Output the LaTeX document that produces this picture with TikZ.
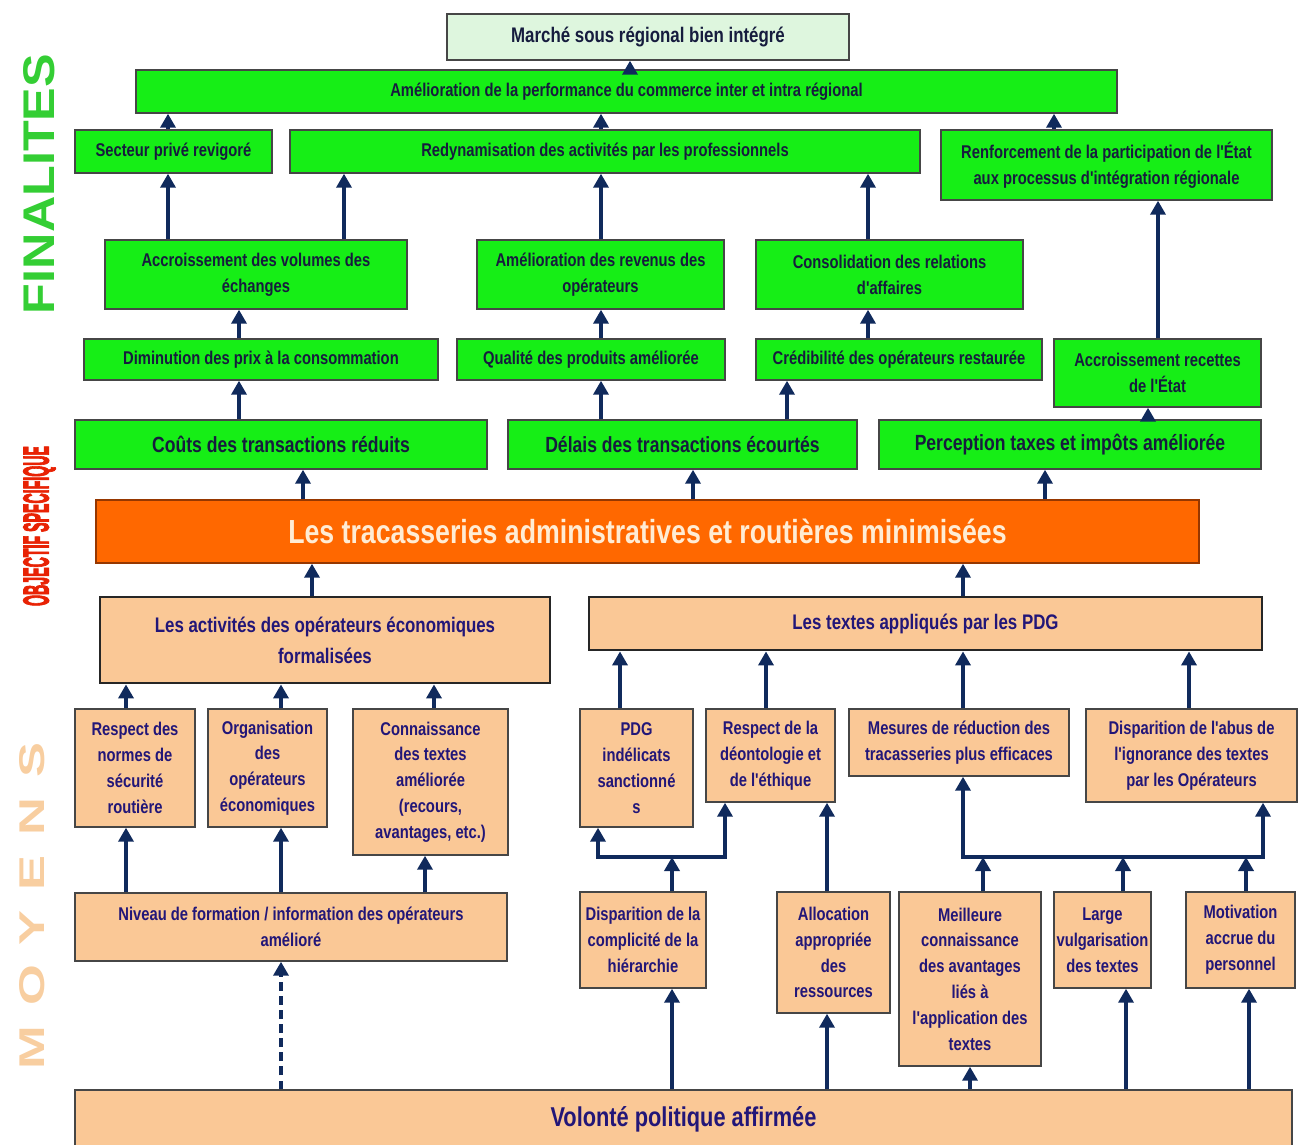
\documentclass[tikz,border=0pt]{standalone}
\usepackage{fontspec}
\usepackage{graphicx}
\usetikzlibrary{arrows.meta}
\newfontfamily\etroit{Liberation Sans}[FakeStretch=0.8]
\newfontfamily\plein{Liberation Sans}
\newfontfamily\epais{Liberation Sans}[FakeBold=4]
\definecolor{vertvif}{RGB}{22,238,22}
\definecolor{vertpale}{RGB}{222,246,222}
\definecolor{pechefond}{RGB}{250,200,150}
\definecolor{orangevif}{RGB}{255,104,0}
\definecolor{bleufl}{RGB}{16,42,92}
\definecolor{encre}{RGB}{22,28,62}
\definecolor{encreb}{RGB}{34,22,120}
\definecolor{bordgris}{RGB}{70,70,70}
\definecolor{vertlabel}{RGB}{52,206,52}
\definecolor{rougelabel}{RGB}{232,34,4}
\definecolor{pechelabel}{RGB}{248,206,160}
\tikzset{
	boite/.style={draw=bordgris, line width=0.8pt, inner sep=1pt, align=center, font=\etroit\bfseries\fontsize{10.5}{14.7}\selectfont},
	vert/.style={boite, fill=vertvif, text=encre},
	vertg/.style={vert, font=\etroit\bfseries\fontsize{12.5}{15}\selectfont},
	peche/.style={boite, fill=pechefond, text=encreb},
	pecheg/.style={peche, draw=black!85, line width=1.6pt, font=\etroit\bfseries\fontsize{12}{17.6}\selectfont},
	fl/.style={draw=bleufl, line width=2.6pt, ->},
	bus/.style={draw=bleufl, line width=2.6pt, <->},
	etage/.style={inner sep=0pt, rotate=90}
}
\def\cadre[#1](#2)(#3:#4:#5:#6)#7{\node[#1, minimum width={(#5-#3)*0.02cm}, minimum height={(#6-#4)*0.02cm}] (#2) at ({(#3+#5)/2},{(#4+#6)/2}) {#7};}
\def\fleche[#1](#2)(#3)(#4){\draw[fl,#1] (#2.north -| #4,0) -- (#3.south -| #4,0);}

\begin{document}
\begin{tikzpicture}[x=0.02cm, y=-0.02cm, >={Triangle[width=0.3cm,length=0.28cm]}]
			%%%%% START %%%%%
			\useasboundingbox (0,0) rectangle (1304,1144);
			
			% niveaux
			\node[etage, text=vertlabel] (finalites) at (39.5,184) {\resizebox{5.2cm}{0.62cm}{\plein\bfseries FINALITES}};
			\node[etage, text=rougelabel] (objspec) at (39.5,526) {\resizebox{3.2cm}{0.5cm}{\epais\bfseries OBJECTIF SPECIFIQUE}};
			\node[etage, text=pechelabel] (moyens) at (32,906) {\resizebox{6.54cm}{0.5cm}{\plein\bfseries M\hspace{0.38em}O\hspace{0.38em}Y\hspace{0.38em}E\hspace{0.38em}N\hspace{0.38em}S}};
			
			% finalites
			\cadre[boite, fill=vertpale, text=encre, font=\etroit\bfseries\fontsize{12}{14}\selectfont](marche)(447:14:849:60){Marché sous régional bien intégré}
			\cadre[vert](amelio)(136:70:1117:113){Amélioration  de la performance du commerce inter et intra régional}
			\cadre[vert](secteur)(75:130:272:173){Secteur privé revigoré}
			\cadre[vert](redyn)(290:130:920:173){Redynamisation des activités par les professionnels}
			\cadre[vert](renfo)(941:130:1272:200){Renforcement de la participation de l'État\\aux processus d'intégration régionale}
			\cadre[vert](accvol)(105:240:407:309){Accroissement des volumes des\\échanges}
			\cadre[vert](revenus)(477:240:724:309){Amélioration des revenus des\\opérateurs}
			\cadre[vert](consol)(756:240:1023:309){Consolidation des relations\\d'affaires}
			\cadre[vert](diminu)(84:339:438:380){Diminution des prix à la consommation}
			\cadre[vert](qualite)(457:339:725:380){Qualité des produits améliorée}
			\cadre[vert](credib)(756:339:1042:380){Crédibilité des opérateurs restaurée}
			\cadre[vert](recettes)(1054:339:1261:407){Accroissement recettes\\de l'État}
			\cadre[vertg](couts)(75:420:487:469){Coûts des transactions réduits}
			\cadre[vertg](delais)(508:420:857:469){Délais des transactions écourtés}
			\cadre[vertg](percep)(879:420:1261:469){Perception taxes et impôts améliorée}
			
			% objectif specifique
			\cadre[boite, fill=orangevif, draw={rgb,255:red,150;green,55;blue,0}, text={rgb,255:red,255;green,236;blue,212}, font=\etroit\bfseries\fontsize{19}{22}\selectfont](objectif)(96:500:1199:563){Les tracasseries administratives et routières minimisées}
			
			% moyens
			\cadre[pecheg](activ)(100:597:550:683){Les activités des opérateurs économiques\\formalisées}
			\cadre[pecheg](textes)(589:597:1262:650){Les textes appliqués par les PDG}
			\cadre[peche](normes)(75:709:195:827){Respect des\\normes de\\sécurité\\routière}
			\cadre[peche](organ)(208:709:327:827){Organisation\\des\\opérateurs\\économiques}
			\cadre[peche](connai)(353:709:508:855){Connaissance\\des textes\\améliorée\\(recours,\\avantages, etc.)}
			\cadre[peche](pdg)(580:709:693:827){PDG\\indélicats\\sanctionné\\s}
			\cadre[peche](deonto)(706:709:835:802){Respect de la\\déontologie et\\de l'éthique}
			\cadre[peche](mesures)(849:709:1069:776){Mesures de réduction des\\tracasseries plus efficaces}
			\cadre[peche](abus)(1086:709:1297:802){Disparition de l'abus de\\l'ignorance des textes\\par les Opérateurs}
			\cadre[peche](niveau)(75:893:507:961){Niveau de formation / information des opérateurs\\amélioré}
			\cadre[peche](complic)(580:892:706:988){Disparition de la\\complicité de la\\hiérarchie}
			\cadre[peche](alloc)(777:892:890:1013){Allocation\\appropriée\\des\\ressources}
			\cadre[peche](meill)(899:892:1041:1066){Meilleure\\connaissance\\des avantages\\liés à\\l'application des\\textes}
			\cadre[peche](vulga)(1054:892:1151:988){Large\\vulgarisation\\des textes}
			\cadre[peche](motiv)(1186:892:1295:988){Motivation\\accrue du\\personnel}
			\cadre[peche, font=\etroit\bfseries\fontsize{15.5}{18}\selectfont](volonte)(75:1090:1292:1148){Volonté politique affirmée}
			
			% fleches finalites
			\fleche[](amelio)(marche)(630)
			\fleche[](secteur)(amelio)(168)
			\fleche[](redyn)(amelio)(601)
			\fleche[](renfo)(amelio)(1054)
			\fleche[](accvol)(secteur)(168)
			\fleche[](accvol)(redyn)(344)
			\fleche[](revenus)(redyn)(601)
			\fleche[](consol)(redyn)(868)
			\fleche[](recettes)(renfo)(1158)
			\fleche[](diminu)(accvol)(239)
			\fleche[](qualite)(revenus)(601)
			\fleche[](credib)(consol)(868)
			\fleche[](couts)(diminu)(239)
			\fleche[](delais)(qualite)(601)
			\fleche[](delais)(credib)(787)
			\fleche[](percep)(recettes)(1148)
			\fleche[](objectif)(couts)(303)
			\fleche[](objectif)(delais)(693)
			\fleche[](objectif)(percep)(1045)
			
			% fleches moyens
			\fleche[](activ)(objectif)(312)
			\fleche[](textes)(objectif)(963)
			\fleche[](normes)(activ)(126)
			\fleche[](organ)(activ)(281)
			\fleche[](connai)(activ)(434)
			\fleche[](pdg)(textes)(620)
			\fleche[](deonto)(textes)(766)
			\fleche[](mesures)(textes)(963)
			\fleche[](abus)(textes)(1189)
			\fleche[](niveau)(normes)(126)
			\fleche[](niveau)(organ)(281)
			\fleche[](niveau)(connai)(425)
			\fleche[dash pattern=on 5pt off 3pt](volonte)(niveau)(281)
			\fleche[](alloc)(deonto)(827)
			\fleche[](volonte)(complic)(672)
			\fleche[](volonte)(alloc)(827)
			\fleche[](volonte)(meill)(970)
			\fleche[](volonte)(vulga)(1126)
			\fleche[](volonte)(motiv)(1249)
			
			% barres de repartition
			\coordinate (barre) at (0,857);
			\draw[bus] (pdg.south -| 598,0) |- (barre -| 725,0) -- (deonto.south -| 725,0);
			\draw[fl] (complic.north -| 672,0) -- (barre -| 672,0);
			\draw[bus] (mesures.south -| 963,0) |- (barre -| 1263,0) -- (abus.south -| 1263,0);
			\draw[fl] (meill.north -| 983,0) -- (barre -| 983,0);
			\draw[fl] (vulga.north -| 1123,0) -- (barre -| 1123,0);
			\draw[fl] (motiv.north -| 1246,0) -- (barre -| 1246,0);
			
			%%%%% END %%%%%
\end{tikzpicture}
\end{document}
